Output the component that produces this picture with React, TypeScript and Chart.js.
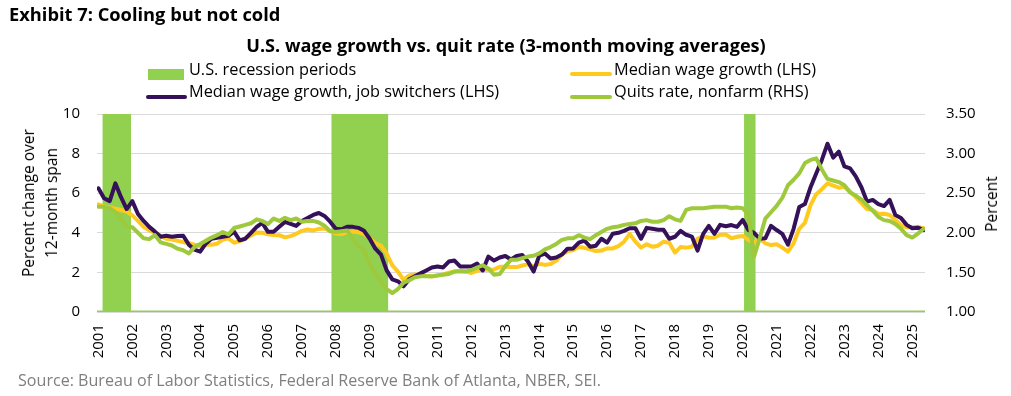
import React, { useEffect, useRef } from 'react';
import { Chart, registerables } from 'chart.js';

Chart.register(...registerables);

// ---------------- DATA ----------------
const START_YEAR = 2001;
const STEP_MONTHS = 2; // one value every 2 months, from Jan 2001
const yearLabels = [
  '2001', '2002', '2003', '2004', '2005', '2006', '2007', '2008', '2009', '2010', '2011', '2012',
  '2013', '2014', '2015', '2016', '2017', '2018', '2019', '2020', '2021', '2022', '2023', '2024', '2025',
];
const recessionPeriods: [string, string][] = [
  ['2001-03', '2001-11'],
  ['2007-12', '2009-06'],
  ['2020-02', '2020-04'],
];
// Median wage growth, job switchers (LHS, %)
const wageSwitchers = [
  6.25, 5.75, 5.6, 6.5, 5.8, 5.2, 5.6, 4.95, 4.6, 4.3, 4.06, 3.8,
  3.85, 3.8, 3.84, 3.85, 3.4, 3.15, 3.05, 3.45, 3.7, 3.75, 3.8, 3.85,
  4.06, 3.62, 3.7, 4.0, 4.3, 4.5, 4.05, 4.05, 4.3, 4.55, 4.45, 4.35,
  4.6, 4.75, 4.9, 5.0, 4.85, 4.56, 4.2, 4.18, 4.3, 4.3, 4.25, 4.1,
  3.7, 3.2, 2.9, 2.1, 1.65, 1.55, 1.3, 1.65, 1.8, 1.95, 2.1, 2.25,
  2.3, 2.25, 2.55, 2.6, 2.3, 2.3, 2.3, 2.45, 2.1, 2.8, 2.6, 2.75,
  2.83, 2.65, 2.83, 2.88, 2.55, 2.04, 2.85, 2.95, 2.7, 2.75, 2.9, 3.2,
  3.21, 3.5, 3.6, 3.3, 3.35, 3.7, 3.5, 3.95, 4.0, 4.1, 4.23, 4.23,
  3.7, 4.25, 4.2, 4.15, 4.15, 3.7, 3.8, 4.1, 3.9, 3.81, 3.1, 3.95,
  4.35, 3.95, 4.4, 4.33, 4.39, 4.3, 4.65, 4.14, 4.0, 3.7, 3.72, 4.35,
  4.14, 3.95, 3.4, 4.2, 5.3, 5.45, 6.3, 7.0, 7.68, 8.5, 7.8, 8.1,
  7.35, 7.25, 6.85, 6.3, 5.57, 5.66, 5.45, 5.35, 5.66, 4.9, 4.75, 4.4,
  4.23, 4.26, 4.14,
];
// Median wage growth (LHS, %)
const wageMedian = [
  5.44, 5.33, 5.28, 5.22, 5.15, 5.07, 4.88, 4.6, 4.3, 4.12, 4.0, 3.85,
  3.7, 3.66, 3.6, 3.53, 3.47, 3.4, 3.32, 3.4, 3.4, 3.45, 3.66, 3.72,
  3.5, 3.58, 3.72, 3.87, 4.02, 4.0, 3.92, 3.89, 3.88, 3.77, 3.83, 3.95,
  4.1, 4.17, 4.12, 4.2, 4.22, 4.1, 3.97, 3.94, 4.03, 4.06, 4.03, 3.95,
  3.72, 3.47, 3.35, 2.95, 2.35, 2.04, 1.62, 1.85, 1.9, 1.86, 1.82, 1.79,
  1.85, 1.9, 1.98, 2.05, 2.09, 2.05, 1.97, 2.08, 2.14, 2.13, 2.15, 2.28,
  2.29, 2.27, 2.27, 2.35, 2.42, 2.3, 2.44, 2.38, 2.42, 2.6, 2.9, 3.07,
  3.13, 3.28, 3.24, 3.16, 3.08, 3.1, 3.21, 3.21, 3.33, 3.55, 3.95, 3.55,
  3.25, 3.42, 3.3, 3.35, 3.55, 3.5, 3.0, 3.28, 3.25, 3.3, 3.7, 3.84,
  3.75, 3.76, 3.9, 3.92, 3.72, 3.8, 3.84, 3.64, 3.5, 3.7, 3.47, 3.38,
  3.42, 3.25, 3.05, 3.47, 4.2, 4.5, 5.4, 5.95, 6.2, 6.5, 6.38, 6.28,
  6.32, 6.08, 5.8, 5.5, 5.2, 5.15, 4.95, 4.96, 4.9, 4.65, 4.38, 4.28,
  4.28, 4.3, 4.23,
];
// Quits rate, nonfarm (RHS, %)
const quitsRate = [
  2.33, 2.33, 2.31, 2.26, 2.18, 2.08, 2.07, 2.0, 1.93, 1.92, 1.97, 1.88,
  1.86, 1.84, 1.8, 1.78, 1.74, 1.82, 1.86, 1.9, 1.94, 1.97, 2.01, 1.98,
  2.06, 2.08, 2.1, 2.12, 2.17, 2.15, 2.11, 2.18, 2.15, 2.19, 2.16, 2.18,
  2.14, 2.15, 2.15, 2.13, 2.09, 2.02, 2.01, 2.02, 2.03, 1.93, 1.83, 1.78,
  1.6, 1.49, 1.38, 1.29, 1.24, 1.29, 1.37, 1.4, 1.44, 1.45, 1.45, 1.45,
  1.46, 1.47, 1.48, 1.51, 1.51, 1.51, 1.53, 1.56, 1.59, 1.55, 1.47, 1.48,
  1.58, 1.66, 1.66, 1.68, 1.7, 1.71, 1.74, 1.79, 1.82, 1.86, 1.91, 1.93,
  1.93, 1.97, 1.94, 1.92, 1.97, 2.01, 2.05, 2.07, 2.08, 2.1, 2.11, 2.12,
  2.15, 2.16, 2.14, 2.14, 2.16, 2.21, 2.17, 2.15, 2.29, 2.31, 2.31, 2.31,
  2.32, 2.33, 2.33, 2.33, 2.31, 2.32, 2.31, 2.23, 1.7, 1.93, 2.18, 2.26,
  2.34, 2.44, 2.6, 2.67, 2.75, 2.88, 2.92, 2.94, 2.8, 2.68, 2.66, 2.64,
  2.6, 2.51, 2.47, 2.42, 2.35, 2.28, 2.2, 2.16, 2.15, 2.11, 2.05, 1.97,
  1.94, 1.99, 2.05,
];

// ---------------- STYLE ----------------
const FONT = "'Open Sans', sans-serif";
const C_RECESSION = '#92d050';
const C_SWITCHERS = '#35115a';
const C_MEDIAN = '#ffc91f';
const C_QUITS = '#9fc93c';
const GRID = '#d9d9d9';

const W = 1011;
const H = 396;
const PLOT_LEFT = 97;
const PLOT_RIGHT = 925;
const PLOT_TOP = 114;
const PLOT_BOTTOM = 312;

const LEFT_MAX = 10;
const lastIndex = (wageSwitchers.length - 1) * STEP_MONTHS;
const X_MIN = -0.5;
const X_MAX = lastIndex + 0.5;

const monthIndex = (s: string) => {
  const [y, m] = s.split('-').map(Number);
  return (y - START_YEAR) * 12 + (m - 1);
};
const toPoints = (vals: number[]) => vals.map((y, i) => ({ x: i * STEP_MONTHS, y }));

function recessionShape() {
  const pts: { x: number; y: number }[] = [{ x: X_MIN, y: 0 }];
  for (const [a, b] of recessionPeriods) {
    const s = monthIndex(a);
    const e = monthIndex(b) + 1;
    pts.push({ x: s, y: 0 }, { x: s, y: LEFT_MAX }, { x: e, y: LEFT_MAX }, { x: e, y: 0 });
  }
  pts.push({ x: X_MAX, y: 0 });
  return pts;
}

export default function App() {
  const ref = useRef<HTMLCanvasElement | null>(null);

  useEffect(() => {
    if (!ref.current) return;
    const tickFont = { family: FONT, size: 15 };
    const chart = new Chart(ref.current, {
      type: 'line',
      data: {
        datasets: [
          {
            label: 'Quits rate, nonfarm (RHS)',
            data: toPoints(quitsRate),
            yAxisID: 'y1',
            borderColor: C_QUITS,
            borderWidth: 4,
            pointRadius: 0,
            tension: 0,
            borderJoinStyle: 'round',
            borderCapStyle: 'round',
            order: 0,
          },
          {
            label: 'Median wage growth, job switchers (LHS)',
            data: toPoints(wageSwitchers),
            yAxisID: 'y',
            borderColor: C_SWITCHERS,
            borderWidth: 4,
            pointRadius: 0,
            tension: 0,
            borderJoinStyle: 'round',
            borderCapStyle: 'round',
            order: 1,
          },
          {
            label: 'Median wage growth (LHS)',
            data: toPoints(wageMedian),
            yAxisID: 'y',
            borderColor: C_MEDIAN,
            borderWidth: 4,
            pointRadius: 0,
            tension: 0,
            borderJoinStyle: 'round',
            borderCapStyle: 'round',
            order: 2,
          },
          {
            label: 'U.S. recession periods',
            data: recessionShape(),
            yAxisID: 'y',
            borderColor: C_RECESSION,
            backgroundColor: C_RECESSION,
            borderWidth: 3,
            pointRadius: 0,
            tension: 0,
            fill: 'origin',
            order: 3,
          },
        ],
      } as any,
      options: {
        animation: false,
        responsive: false,
        maintainAspectRatio: false,
        events: [],
        layout: { padding: { top: PLOT_TOP, left: 0, right: 0, bottom: 0 } },
        plugins: {
          legend: { display: false },
          title: { display: false },
          tooltip: { enabled: false },
        },
        scales: {
          x: {
            type: 'linear',
            min: X_MIN,
            max: X_MAX,
            grid: { display: false, drawTicks: false },
            border: { display: false },
            afterBuildTicks: (scale: any) => {
              scale.ticks = yearLabels.map((_, i) => ({ value: i * 12 }));
            },
            afterFit: (scale: any) => {
              scale.height = H - PLOT_BOTTOM;
            },
            ticks: {
              autoSkip: false,
              minRotation: 90,
              maxRotation: 90,
              padding: 12,
              color: '#000',
              font: tickFont,
              callback: (_v: any, i: number) => yearLabels[i],
            },
          },
          y: {
            position: 'left',
            min: 0,
            max: LEFT_MAX,
            grid: { color: GRID, lineWidth: 1, drawTicks: false },
            border: { display: false },
            afterFit: (scale: any) => {
              scale.width = PLOT_LEFT;
            },
            ticks: { stepSize: 2, padding: 17, color: '#000', font: tickFont },
          },
          y1: {
            position: 'right',
            min: 1,
            max: 3.5,
            grid: { drawOnChartArea: false, drawTicks: false },
            border: { display: false },
            afterFit: (scale: any) => {
              scale.width = W - PLOT_RIGHT;
            },
            ticks: {
              stepSize: 0.5,
              padding: 21,
              color: '#000',
              font: tickFont,
              callback: (v: any) => Number(v).toFixed(2),
            },
          },
        },
      } as any,
    });
    return () => chart.destroy();
  }, []);

  const abs = (s: React.CSSProperties): React.CSSProperties => ({ position: 'absolute', whiteSpace: 'nowrap', ...s });
  const legendText: React.CSSProperties = { fontSize: 16.3, lineHeight: '20px' };

  return (
    <div style={{ position: 'absolute', left: 0, top: 0, width: W, height: H, background: '#fff', fontFamily: FONT, color: '#000', overflow: 'hidden' }}>
      <canvas ref={ref} width={W} height={H} style={{ position: 'absolute', left: 0, top: 0, width: W, height: H }} />
      <div style={abs({ left: 9, top: 2, fontSize: 18.3, fontWeight: 700, lineHeight: '24px' })}>Exhibit 7: Cooling but not cold</div>
      <div style={abs({ left: 0, width: 1012, top: 33, textAlign: 'center', fontSize: 18.1, fontWeight: 700, lineHeight: '24px' })}>
        U.S. wage growth vs. quit rate (3-month moving averages)
      </div>

      {/* legend */}
      <div style={abs({ left: 148, top: 69, width: 36, height: 11, background: C_RECESSION })} />
      <div style={abs({ left: 189, top: 59, ...legendText })}>U.S. recession periods</div>
      <div style={abs({ left: 146, top: 94.5, width: 41, height: 4, borderRadius: 2, background: C_SWITCHERS })} />
      <div style={abs({ left: 189, top: 81, ...legendText })}>Median wage growth, job switchers (LHS)</div>
      <div style={abs({ left: 570, top: 72, width: 42, height: 4, borderRadius: 2, background: C_MEDIAN })} />
      <div style={abs({ left: 614, top: 59, ...legendText })}>Median wage growth (LHS)</div>
      <div style={abs({ left: 570, top: 94.5, width: 42, height: 4, borderRadius: 2, background: C_QUITS })} />
      <div style={abs({ left: 614, top: 81, ...legendText })}>Quits rate, nonfarm (RHS)</div>

      {/* axis titles */}
      <div style={abs({ left: 39.5, top: 203, transform: 'translate(-50%, -50%) rotate(-90deg)', fontSize: 15.5, lineHeight: '23px', textAlign: 'center' })}>
        Percent change over
        <br />
        12-month span
      </div>
      <div style={abs({ left: 991, top: 203.5, transform: 'translate(-50%, -50%) rotate(-90deg)', fontSize: 15.5, lineHeight: '20px' })}>Percent</div>

      {/* source */}
      <div style={abs({ left: 18, top: 370, fontSize: 16.1, lineHeight: '20px', color: '#7f7f7f' })}>
        Source: Bureau of Labor Statistics, Federal Reserve Bank of Atlanta, NBER, SEI.
      </div>
    </div>
  );
}
